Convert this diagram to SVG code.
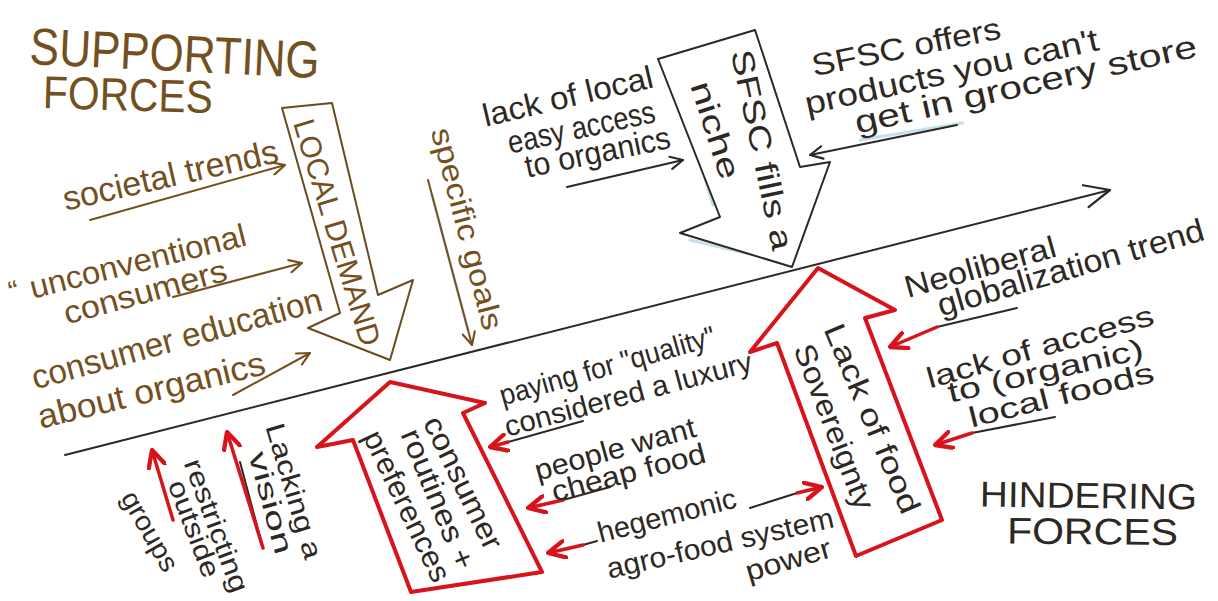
<svg xmlns="http://www.w3.org/2000/svg" width="1218" height="601" viewBox="0 0 1218 601">
<defs>
<style>
text{font-family:"Liberation Sans",Arial,sans-serif;dominant-baseline:central;}
.b{fill:#74501f}
.k{fill:#2d2823}
.lb{fill:none;stroke:#74501f;stroke-width:2;stroke-linecap:round;stroke-linejoin:round}
.lk{fill:none;stroke:#2d2823;stroke-width:2;stroke-linecap:round;stroke-linejoin:round}
.lr{fill:none;stroke:#d7141c;stroke-width:3.5;stroke-linecap:round;stroke-linejoin:round}
.sb{fill:#fff;stroke:#6b4a20;stroke-width:2;stroke-linejoin:round}
.sk{fill:#fff;stroke:#2d2823;stroke-width:2;stroke-linejoin:round}
.sr{fill:#fff;stroke:#d7141c;stroke-width:4;stroke-linejoin:round}
.blue{fill:none;stroke:#8cc2d8;stroke-width:3;stroke-linecap:round;opacity:.5}
</style>
<marker id="hb" viewBox="0 0 12 12" refX="11" refY="6" markerWidth="15" markerHeight="15" markerUnits="userSpaceOnUse" orient="auto"><path d="M1,1 L11,6 L1,11" fill="none" stroke="#74501f" stroke-width="1.7" stroke-linecap="round" stroke-linejoin="round"/></marker>
<marker id="hk" viewBox="0 0 12 12" refX="11" refY="6" markerWidth="15" markerHeight="15" markerUnits="userSpaceOnUse" orient="auto"><path d="M1,1 L11,6 L1,11" fill="none" stroke="#2d2823" stroke-width="1.7" stroke-linecap="round" stroke-linejoin="round"/></marker>
<marker id="hm" viewBox="0 0 12 12" refX="11" refY="6" markerWidth="30" markerHeight="30" markerUnits="userSpaceOnUse" orient="auto"><path d="M1,1.5 L11,6 L1,10.5" fill="none" stroke="#2d2823" stroke-width="0.9" stroke-linecap="round" stroke-linejoin="round"/></marker>
<marker id="hr" viewBox="0 0 12 12" refX="11" refY="6" markerWidth="20" markerHeight="20" markerUnits="userSpaceOnUse" orient="auto"><path d="M1,1 L11,6 L1,11" fill="none" stroke="#d7141c" stroke-width="2.6" stroke-linecap="round" stroke-linejoin="round"/></marker>
</defs>
<rect width="1218" height="601" fill="#fff"/>

<g id="connectors">
<path class="lk" d="M65,455 L1110,190" marker-end="url(#hm)"/>
<path class="lb" d="M90,220 L285,165" marker-end="url(#hb)"/>
<path class="lb" d="M173,297 L302,263" marker-end="url(#hb)"/>
<path class="lb" d="M233,395 Q275,372 310,353" marker-end="url(#hb)"/>
<path class="blue" d="M432,195 L468,330"/>
<path class="lb" d="M428,180 L472,345" marker-end="url(#hb)"/>
<path class="lk" d="M567,187 L683,160" marker-end="url(#hk)"/>
<path class="blue" d="M963,123 L860,140"/>
<path class="lk" d="M957,125 L810,155" marker-end="url(#hk)"/>
<path class="lk" d="M1017,308 L937,327"/>
<path class="lr" d="M937,327 L890,347" marker-end="url(#hr)"/>
<path class="lk" d="M1055,417 L972,433"/>
<path class="lr" d="M972,433 L935,445" marker-end="url(#hr)"/>
<path class="lk" d="M583,421 L508,442"/>
<path class="lr" d="M508,442 L490,447" marker-end="url(#hr)"/>
<path class="lk" d="M610,487 L563,500"/>
<path class="lr" d="M563,500 L528,508" marker-end="url(#hr)"/>
<path class="lk" d="M597,541 L583,545"/>
<path class="lr" d="M583,545 L548,553" marker-end="url(#hr)"/>
<path class="lk" d="M750,508 L797,493"/>
<path class="lr" d="M797,493 L822,487" marker-end="url(#hr)"/>
<path class="lr" d="M173,520 L152,450" marker-end="url(#hr)"/>
<path class="lk" d="M240,462 L263,548" stroke-width="1.5"/>
<path class="lr" d="M263,548 L227,432" marker-end="url(#hr)"/>
</g>

<g id="supporting-title">
<text class="b" font-size="52" textLength="290" lengthAdjust="spacingAndGlyphs" transform="translate(30,46) rotate(2.8)">SUPPORTING</text>
<text class="b" font-size="46" textLength="170" lengthAdjust="spacingAndGlyphs" transform="translate(43,92) rotate(1.7)">FORCES</text>
</g>

<g id="societal-trends">
<text class="b" font-size="34" textLength="220" lengthAdjust="spacingAndGlyphs" transform="translate(63,199) rotate(-12.8)">societal trends</text>
</g>

<g id="unconventional-consumers">
<text class="b" font-size="30" transform="translate(9,292) rotate(-14)">“</text>
<text class="b" font-size="32" textLength="222" lengthAdjust="spacingAndGlyphs" transform="translate(30,288) rotate(-14)">unconventional</text>
<text class="b" font-size="32" textLength="168" lengthAdjust="spacingAndGlyphs" transform="translate(64,314) rotate(-15.3)">consumers</text>
</g>

<g id="consumer-education">
<text class="b" font-size="34" textLength="300" lengthAdjust="spacingAndGlyphs" transform="translate(32,378) rotate(-15.4)">consumer education</text>
<text class="b" font-size="34" textLength="233" lengthAdjust="spacingAndGlyphs" transform="translate(38,417) rotate(-13.6)">about organics</text>
</g>

<g id="local-demand">
<polygon class="sb" points="282,108 332,103 378,295 413,280 390,360 308,328 340,313"/>
<text class="b" font-size="30" textLength="235" lengthAdjust="spacingAndGlyphs" transform="translate(303,120) rotate(73)">LOCAL DEMAND</text>
</g>

<g id="specific-goals">
<text class="b" font-size="30" textLength="208" lengthAdjust="spacingAndGlyphs" transform="translate(441,128) rotate(75.3)">specific goals</text>
</g>

<g id="lack-of-local">
<text class="k" font-size="32" textLength="174" lengthAdjust="spacingAndGlyphs" transform="translate(483,116) rotate(-13.2)">lack of local</text>
<text class="k" font-size="32" textLength="150" lengthAdjust="spacingAndGlyphs" transform="translate(508,143) rotate(-12.3)">easy access</text>
<text class="k" font-size="32" textLength="148" lengthAdjust="spacingAndGlyphs" transform="translate(525,167) rotate(-11.7)">to organics</text>
</g>

<g id="sfsc-niche">
<polyline class="blue" points="697,50 753,34"/>
<polyline class="blue" points="684,110 713,205"/>
<polyline class="blue" points="690,240 783,262 808,200"/>
<polygon class="sk" points="658,59 755,30 800,167 830,162 792,267 680,233 720,217"/>
<text class="k" font-size="31" textLength="204" lengthAdjust="spacingAndGlyphs" transform="translate(741,50) rotate(78.1)">SFSC fills a</text>
<text class="k" font-size="31" textLength="101" lengthAdjust="spacingAndGlyphs" transform="translate(700,82) rotate(72.1)">niche</text>
</g>

<g id="sfsc-offers">
<text class="k" font-size="31" textLength="192" lengthAdjust="spacingAndGlyphs" transform="translate(812,66) rotate(-11.4)">SFSC offers</text>
<text class="k" font-size="32" textLength="300" lengthAdjust="spacingAndGlyphs" transform="translate(805,104) rotate(-12.5)">products you can't</text>
<text class="k" font-size="32" textLength="350" lengthAdjust="spacingAndGlyphs" transform="translate(855,123) rotate(-12.8)">get in grocery store</text>
</g>

<g id="neoliberal">
<text class="k" font-size="31" textLength="156" lengthAdjust="spacingAndGlyphs" transform="translate(905,288) rotate(-15.6)">Neoliberal</text>
<text class="k" font-size="32" textLength="276" lengthAdjust="spacingAndGlyphs" transform="translate(938,306) rotate(-16.2)">globalization trend</text>
</g>

<g id="lack-of-access">
<text class="k" font-size="29" textLength="235" lengthAdjust="spacingAndGlyphs" transform="translate(927,379) rotate(-15.9)">lack of access</text>
<text class="k" font-size="29" textLength="200" lengthAdjust="spacingAndGlyphs" transform="translate(948,393) rotate(-12.9)">to (organic)</text>
<text class="k" font-size="29" textLength="190" lengthAdjust="spacingAndGlyphs" transform="translate(969,418) rotate(-14.1)">local foods</text>
</g>

<g id="hindering-title">
<text class="k" font-size="36" textLength="217" lengthAdjust="spacingAndGlyphs" transform="translate(980,494) rotate(0.8)">HINDERING</text>
<text class="k" font-size="37" textLength="171" lengthAdjust="spacingAndGlyphs" transform="translate(1007,531) rotate(0.5)">FORCES</text>
</g>

<g id="food-sovereignty">
<polygon class="sr" points="818,268 895,310 865,318 942,520 856,556 777,343 750,352"/>
<text class="k" font-size="30" textLength="203" lengthAdjust="spacingAndGlyphs" transform="translate(833,325) rotate(67.1)">Lack of food</text>
<text class="k" font-size="30" textLength="175" lengthAdjust="spacingAndGlyphs" transform="translate(803,345) rotate(68.9)">Sovereignty</text>
</g>

<g id="consumer-routines">
<polygon class="sr" points="390,382 485,403 463,413 542,572 411,592 353,440 317,447"/>
<text class="k" font-size="30" textLength="144" lengthAdjust="spacingAndGlyphs" transform="translate(432,418) rotate(64.1)">consumer</text>
<text class="k" font-size="30" textLength="149" lengthAdjust="spacingAndGlyphs" transform="translate(410,430) rotate(67.6)">routines +</text>
<text class="k" font-size="30" textLength="164" lengthAdjust="spacingAndGlyphs" transform="translate(372,432) rotate(64.4)">preferences</text>
</g>

<g id="paying-for-quality">
<text class="k" font-size="29" textLength="223" lengthAdjust="spacingAndGlyphs" transform="translate(500,396) rotate(-15.8)">paying for "quality"</text>
<text class="k" font-size="29" textLength="255" lengthAdjust="spacingAndGlyphs" transform="translate(505,427) rotate(-15)">considered a luxury</text>
</g>

<g id="people-want">
<text class="k" font-size="29" textLength="166" lengthAdjust="spacingAndGlyphs" transform="translate(535,471) rotate(-15.5)">people want</text>
<text class="k" font-size="29" textLength="158" lengthAdjust="spacingAndGlyphs" transform="translate(552,492) rotate(-14.5)">cheap food</text>
</g>

<g id="hegemonic">
<text class="k" font-size="29" textLength="142" lengthAdjust="spacingAndGlyphs" transform="translate(598,533) rotate(-14.5)">hegemonic</text>
<text class="k" font-size="29" textLength="232" lengthAdjust="spacingAndGlyphs" transform="translate(607,569) rotate(-12.9)">agro-food system</text>
<text class="k" font-size="29" textLength="88" lengthAdjust="spacingAndGlyphs" transform="translate(746,572) rotate(-16.4)">power</text>
</g>

<g id="restricting">
<text class="k" font-size="27" textLength="140" lengthAdjust="spacingAndGlyphs" transform="translate(192,460) rotate(69.7)">restricting</text>
<text class="k" font-size="27" textLength="102" lengthAdjust="spacingAndGlyphs" transform="translate(176,481) rotate(69.3)">outside</text>
<text class="k" font-size="27" textLength="88" lengthAdjust="spacingAndGlyphs" transform="translate(128,493) rotate(60.3)">groups</text>
</g>

<g id="lacking-vision">
<text class="k" font-size="27" textLength="140" lengthAdjust="spacingAndGlyphs" transform="translate(274,424) rotate(73.5)">Lacking a</text>
<text class="k" font-size="27" textLength="105" lengthAdjust="spacingAndGlyphs" transform="translate(257,452) rotate(74.8)">vision</text>
</g>
</svg>
